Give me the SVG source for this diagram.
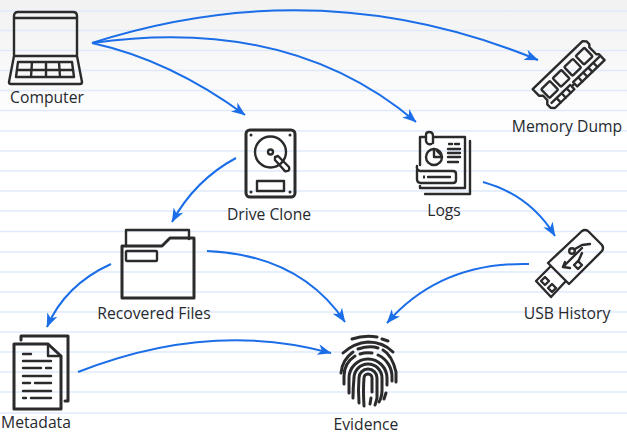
<svg xmlns="http://www.w3.org/2000/svg" width="627" height="435" viewBox="0 0 627 435">
<style>
.rule{stroke:#e0e9fb;stroke-width:1.5;fill:none}
.c{fill:none;stroke:#1b6ee8;stroke-width:2;marker-end:url(#a)}
.i{fill:none;stroke:#2b2b2b;stroke-width:2.4;stroke-linejoin:round;stroke-linecap:round}
.t{stroke-width:3}
.f{fill:#2b2b2b;stroke:none}
text{font-family:"Open Sans","Noto Sans",sans-serif;font-size:15.7px;fill:#26292e;text-anchor:middle}
</style>
<defs>
<linearGradient id="bg" x1="0" y1="0" x2="0" y2="1"><stop offset="0" stop-color="#f2f2f2"/><stop offset="1" stop-color="#fff"/></linearGradient>
<marker id="a" markerUnits="userSpaceOnUse" viewBox="0 0 14 12" markerWidth="14" markerHeight="12" refX="13.500" refY="6" orient="auto"><path d="M0 0.500L14 6L0 11.500L4 6Z" fill="#1b6ee8"/></marker>
</defs>
<rect width="627" height="135" fill="url(#bg)"/>
<g id="rules">
<path class="rule" d="M0 11H627M0 30.500H627M0 50.500H627M0 70.500H627M0 90.500H627M0 110.500H627M0 131H627M0 151H627M0 171H627M0 191H627M0 211H627M0 231.500H627M0 252H627M0 272H627M0 292H627M0 312H627M0 332H627M0 352H627M0 372H627M0 392H627M0 413H627"/>
</g>
<g id="connectors">
<path class="c" d="M92 43Q320 -30 538 60"/>
<path class="c" d="M92 43Q290 15 416 122"/>
<path class="c" d="M92 43Q170 60 245 115"/>
<path class="c" d="M236 158Q195 180 172 222"/>
<path class="c" d="M111 264Q65 285 47 327"/>
<path class="c" d="M207 251Q300 255 345 322"/>
<path class="c" d="M78 372Q210 320 331 353"/>
<path class="c" d="M483 182Q530 195 555 236"/>
<path class="c" d="M529 264Q440 262 387 323"/>
</g>
<g id="computer">
<path class="i" d="M14 55V16Q14 12 18 12H73Q77 12 77 16V55M14 18H77"/>
<path class="i" d="M14 56H77L82 82Q82 84 80 84H11Q9 84 9 82Z"/>
<path class="i" d="M18 62H72L74 77H16ZM17 70H73M32 62L31 77M46 62V77M59 62L60 77"/>
<text x="47" y="103">Computer</text>
</g>
<g id="drive-clone">
<rect class="i t" x="246" y="130" width="49" height="67" rx="4"/>
<circle class="i" cx="270.500" cy="152" r="15.500"/>
<circle class="i" cx="270.500" cy="152" r="2.500"/>
<path class="i" d="M275 157L278 156L289 167Q290 171 287 171Q285 172 284 170L275 160Z"/>
<rect class="i" x="257" y="181" width="27" height="10"/>
<g class="f"><circle cx="251" cy="135" r="1.500"/><circle cx="290" cy="135" r="1.500"/><circle cx="251" cy="192" r="1.500"/><circle cx="290" cy="192" r="1.500"/></g>
<text x="269" y="220">Drive Clone</text>
</g>
<g id="logs">
<path class="i" d="M420 165V137H426M434 137H465V188H420V186"/>
<path class="i" d="M470 141V194H425"/>
<path class="i" d="M433 143V136Q433 132 429 132Q426 132 426 135V141Q427 145 431 144"/>
<path class="i" d="M417 170V179Q417 183 421 183H453Q456 183 456 180V174Q456 171 453 171H420Q416 170 417 166"/>
<path class="i" d="M428 177H450"/>
<path class="f" d="M423 175.500h2v3h-2z"/>
<circle class="i" cx="434" cy="157" r="8"/>
<path class="i" d="M434 149V157H442M437 151L441 155"/>
<path class="i" d="M449 144H452M455 144H459M448 149H460M448 153H460M448 157H460M448 162H458"/>
<text x="444" y="216">Logs</text>
</g>
<g id="memory-dump">
<g transform="translate(569 75) rotate(-44)">
<path class="i" d="M-36 -15H33L36 -12V-8L34 -6V4L36 6V14H-2V10H-6V14H-33L-36 11V6L-33 3V-3L-36 -6Z"/>
<rect class="i" x="-30" y="-9" width="12" height="12" rx="1"/>
<rect class="i" x="-14" y="-9" width="12" height="12" rx="1"/>
<rect class="i" x="2" y="-9" width="12" height="12" rx="1"/>
<rect class="i" x="18" y="-9" width="12" height="12" rx="1"/>
<path class="i" d="M-32 8H-6M-2 8H34M-25 8V14M-18 8V14M-11 8V14M5 8V14M12 8V14M19 8V14M26 8V14"/>
</g>
<text x="567" y="132">Memory Dump</text>
</g>
<g id="recovered-files">
<path class="i" d="M126 246V230H189V239"/>
<path class="i t" d="M122 246H162L170 238H194V298H122Z"/>
<rect class="i" x="126" y="251" width="31" height="10" rx="1"/>
<text x="154" y="319">Recovered Files</text>
</g>
<g id="metadata">
<path class="i t" d="M14 344H48L61 356V409H14Z"/>
<path class="i" d="M48 344V356H61"/>
<path class="i t" d="M21 340V336H68V401H65"/>
<path class="i" d="M23 354H31M23 361H51M23 368H41M46 368H51M23 376H51M23 383H30M35 383H51M23 391H51M23 398H26M31 398H51"/>
<text x="36" y="428">Metadata</text>
</g>
<g id="evidence">
<g class="i t">
<path d="M352 339Q364 335 377 337M382 339L388 341"/>
<path d="M343 353Q354 343 368 342Q383 342 393 352"/>
<path d="M341 373Q342 360 353 352M358 349Q370 345 378 348M383 350Q392 355 396 372V382"/>
<path d="M344 384V376A24 24 0 0 1 355 356M360 354Q366 352 372 353M378 355A24 24 0 0 1 392 378V381"/>
<path d="M349 393V378A19 19 0 0 1 387 378V385M386 393L384 399"/>
<path d="M353 398Q353 388 354 378A14 14 0 0 1 382 378V390Q382 397 379 402"/>
<path d="M359 403Q358 390 359 378A9 9 0 0 1 377 378V398Q376 402 375 405"/>
<path d="M364 406Q363 390 364 378A4 4 0 0 1 372 378V392M371 398L370 404"/>
</g>
<text x="366" y="430">Evidence</text>
</g>
<g id="usb-history">
<path class="i" d="M548 263L582 231Q585 229 588 231L602 245Q604 248 602 251L569 284Z"/>
<path class="i" d="M550 267L536 281L551 297L565 282"/>
<path class="i" d="M541 281L545 277L549 281L545 285ZM548 288L552 284L556 288L552 292Z"/>
<path class="i" d="M563 267L582 248"/>
<path class="i" d="M565 262L563 267L570 268"/>
<path class="i" d="M575 249L582 245L590 244M582 253L578 262"/>
<circle class="i" cx="572" cy="251" r="2.800"/>
<path class="i" d="M574 265L578 261L582 265L578 269Z"/>
<text x="567" y="319">USB History</text>
</g>
</svg>
